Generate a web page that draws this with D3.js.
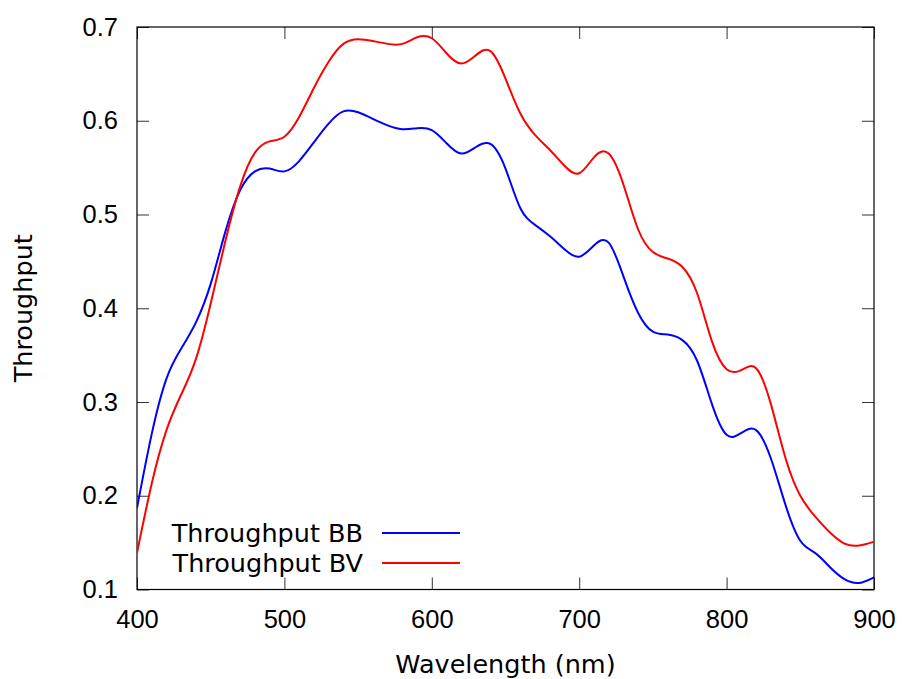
<!DOCTYPE html>
<html>
<head>
<meta charset="utf-8">
<script src="https://cdn.jsdelivr.net/npm/d3@7"></script>
<style>
  body { margin: 0; background: #fff; }
  svg { display: block; font-family: "DejaVu Sans", sans-serif; }
</style>
</head>
<body>
<div id="chart"></div>
<script>
// wavelength samples (nm)
const wavelengths = d3.range(400, 901, 10);

// Throughput BB (blue)
const throughputBB = [
  0.187, 0.266, 0.325, 0.357, 0.385, 0.426, 0.482, 0.526, 0.546, 0.549,
  0.546, 0.557, 0.577, 0.597, 0.610, 0.609, 0.602, 0.595, 0.591, 0.592,
  0.590, 0.576, 0.565, 0.572, 0.575, 0.549, 0.507, 0.489, 0.477, 0.463,
  0.455, 0.467, 0.470, 0.434, 0.395, 0.375, 0.372, 0.366, 0.344, 0.298,
  0.265, 0.267, 0.270, 0.240, 0.190, 0.152, 0.139, 0.124, 0.111, 0.107,
  0.113
];

// Throughput BV (red)
const throughputBV = [
  0.139, 0.213, 0.270, 0.308, 0.346, 0.405, 0.472, 0.530, 0.566, 0.578,
  0.583, 0.604, 0.635, 0.663, 0.682, 0.687, 0.685, 0.682, 0.682, 0.689,
  0.688, 0.672, 0.661, 0.670, 0.674, 0.645, 0.608, 0.585, 0.569, 0.552,
  0.544, 0.561, 0.565, 0.532, 0.484, 0.460, 0.453, 0.444, 0.416, 0.365,
  0.335, 0.334, 0.336, 0.298, 0.240, 0.200, 0.178, 0.161, 0.149, 0.147,
  0.151
];

const series = [
  { name: "Throughput BB", values: throughputBB, color: "#0000ff" },
  { name: "Throughput BV", values: throughputBV, color: "#ff0000" }
];

const xTicks = [400, 500, 600, 700, 800, 900];
const yTicks = [0.1, 0.2, 0.3, 0.4, 0.5, 0.6, 0.7];

const width = 904, height = 679;
const margin = { top: 27, right: 30, bottom: 89.5, left: 137 };
const innerW = width - margin.left - margin.right;
const innerH = height - margin.top - margin.bottom;
const fontSize = 25.5;

const svg = d3.select("#chart").append("svg")
  .attr("width", width)
  .attr("height", height);

const g = svg.append("g")
  .attr("transform", `translate(${margin.left},${margin.top})`);

const x = d3.scaleLinear().domain([400, 900]).range([0, innerW]);
const y = d3.scaleLinear().domain([0.1, 0.7]).range([innerH, 0]);

// clip for curves
svg.append("defs").append("clipPath").attr("id", "plotclip")
  .append("rect").attr("width", innerW).attr("height", innerH);

// axes, ticks pointing inward, mirrored on top/right
const tickLen = 12;
const styleAxis = sel => {
  sel.select(".domain").remove();
  sel.selectAll(".tick line").attr("stroke", "#333").attr("stroke-width", 1);
  sel.selectAll(".tick text").attr("font-size", fontSize).attr("fill", "#000");
};

g.append("g")
  .attr("transform", `translate(0,${innerH})`)
  .call(d3.axisBottom(x).tickValues(xTicks).tickSizeInner(-tickLen).tickSizeOuter(0).tickPadding(20))
  .call(styleAxis);

g.append("g")
  .call(d3.axisTop(x).tickValues(xTicks).tickSizeInner(-tickLen).tickSizeOuter(0).tickFormat(""))
  .call(styleAxis);

g.append("g")
  .call(d3.axisLeft(y).tickValues(yTicks).tickSizeInner(-tickLen).tickSizeOuter(0).tickPadding(19).tickFormat(d3.format(".1f")))
  .call(styleAxis);

g.append("g")
  .attr("transform", `translate(${innerW},0)`)
  .call(d3.axisRight(y).tickValues(yTicks).tickSizeInner(-tickLen).tickSizeOuter(0).tickFormat(""))
  .call(styleAxis);

// frame
g.append("rect")
  .attr("width", innerW).attr("height", innerH)
  .attr("fill", "none").attr("stroke", "#000").attr("stroke-width", 1.2);

// curves
const line = d3.line()
  .x((d, i) => x(wavelengths[i]))
  .y(d => y(d))
  .curve(d3.curveNatural);

g.append("g").attr("clip-path", "url(#plotclip)")
  .selectAll("path")
  .data(series)
  .join("path")
  .attr("d", d => line(d.values))
  .attr("fill", "none")
  .attr("stroke", d => d.color)
  .attr("stroke-width", 2);

// legend
const legend = g.append("g").attr("transform", `translate(${363 - margin.left},${533 - margin.top})`);
series.forEach((s, i) => {
  const row = legend.append("g").attr("transform", `translate(0,${i * 30})`);
  row.append("text")
    .attr("x", 0).attr("y", 0)
    .attr("dy", "0.35em")
    .attr("text-anchor", "end")
    .attr("font-size", fontSize)
    .text(s.name);
  row.append("line")
    .attr("x1", 19).attr("x2", 97)
    .attr("stroke", s.color).attr("stroke-width", 2);
});

// axis titles
svg.append("text")
  .attr("x", margin.left + innerW / 2)
  .attr("y", 673)
  .attr("text-anchor", "middle")
  .attr("font-size", fontSize)
  .text("Wavelength (nm)");

svg.append("text")
  .attr("transform", `translate(32,${margin.top + innerH / 2}) rotate(-90)`)
  .attr("text-anchor", "middle")
  .attr("font-size", fontSize)
  .text("Throughput");
</script>
</body>
</html>
